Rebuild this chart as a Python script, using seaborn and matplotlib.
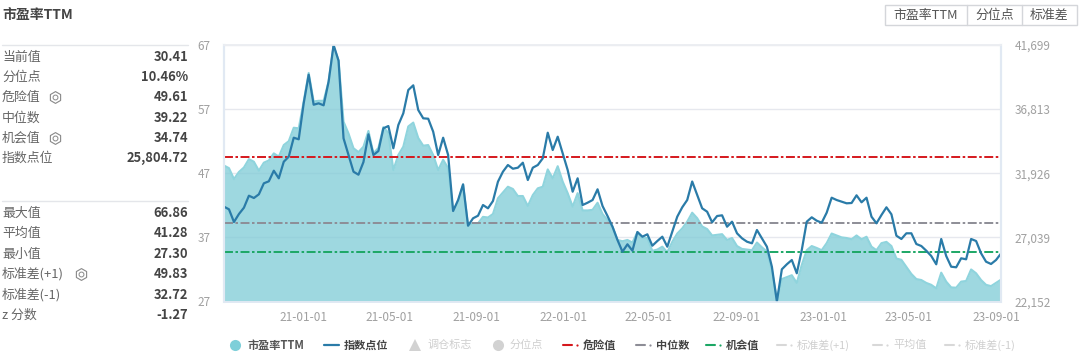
import matplotlib
matplotlib.use('Agg')
import matplotlib.pyplot as plt
import pandas as pd
import seaborn as sns

W, H = 1080, 361

pe_values = [
    48.2, 47.8, 46.1, 47.2, 47.9, 49.2, 48.8, 47.4, 48.65, 49.0, 50.1, 49.6, 51.4, 52.0, 54.1, 54.0,
    58.2, 62.65, 58.2, 58.3, 58.3, 61.3, 66.86, 64.6, 55.05, 53.2, 50.9, 50.3, 51.15, 53.6, 50.1, 50.95,
    54.2, 53.3, 47.5, 49.85, 51.15, 54.3, 54.9, 52.5, 51.3, 51.4, 49.85, 47.5, 49.1, 47.8, 41.1, 42.6,
    45.2, 38.8, 39.2, 39.2, 40.2, 40.1, 40.65, 43.1, 44.0, 44.9, 44.55, 43.45, 43.45, 41.9, 43.6, 44.65,
    44.9, 47.6, 46.2, 48.1, 45.7, 43.9, 41.8, 43.9, 41.2, 41.2, 41.3, 42.4, 40.65, 39.7, 38.7, 36.6,
    36.4, 36.6, 36.2, 37.8, 36.9, 36.9, 34.9, 35.1, 35.55, 34.7, 36.3, 37.6, 38.4, 39.45, 40.85, 40.0,
    38.7, 38.3, 37.3, 37.4, 37.5, 36.6, 36.9, 35.65, 35.2, 35.1, 35.0, 36.2, 35.45, 34.8, 31.9, 27.3,
    30.5, 30.8, 31.1, 29.9, 32.7, 35.0, 35.65, 35.35, 35.0, 36.1, 37.6, 37.3, 37.0, 36.9, 36.7, 37.3,
    36.7, 37.1, 35.55, 35.0, 36.1, 36.3, 35.65, 33.7, 33.5, 32.4, 31.3, 30.5, 30.35, 29.9, 29.6, 29.05,
    31.5, 30.1, 29.2, 29.15, 30.1, 30.2, 32.0, 31.4, 30.35, 29.6, 29.4, 29.9, 30.41,
]
index_values = [
    29376, 29178, 28210, 28820, 29300, 30214, 30039, 30321, 31159, 31311, 32119, 31540, 32805, 33186, 34634, 34512,
    37255, 39434, 37148, 37255, 37102, 38901, 41699, 40501, 34588, 33315, 32043, 31814, 32782, 34893, 33315, 33620,
    35350, 35525, 33826, 35601, 36493, 38268, 38626, 36744, 36112, 36081, 35091, 33315, 34634, 33315, 29048, 29886,
    31083, 27928, 28492, 28690, 29505, 29254, 29810, 31281, 32043, 32553, 32271, 32348, 32729, 31410, 32348, 32553,
    33064, 35015, 33696, 34710, 33445, 32172, 30519, 31540, 29505, 29681, 29886, 30702, 29429, 28667, 27852, 26838,
    25947, 26511, 26023, 27448, 27090, 27273, 26404, 26762, 27090, 26328, 27471, 28614, 29330, 29886, 31296, 30267,
    29254, 28995, 28187, 28667, 28720, 27852, 28233, 27349, 26968, 26709, 26587, 27600, 26968, 26328, 24804, 22152,
    24606, 24987, 25314, 24301, 26076, 28233, 28568, 28309, 28157, 28919, 30062, 29886, 29757, 29635, 29658, 30244,
    29711, 30062, 28614, 28111, 28743, 29330, 28797, 27166, 26915, 27349, 27349, 26534, 26381, 26023, 25619, 24987,
    26915, 25619, 24804, 24758, 25444, 25368, 26915, 26762, 25825, 25185, 25010, 25314, 25805,
]
dates = pd.date_range('2020-09-11', periods=len(pe_values), freq='7D')

tick_dates = ['2021-01-01', '2021-05-01', '2021-09-01', '2022-01-01', '2022-05-01',
              '2022-09-01', '2023-01-01', '2023-05-01', '2023-09-01']
pe_ticks = [27, 37, 47, 57, 67]
index_ticks = [22152, 27039, 31926, 36813, 41699]

danger = 49.61
median = 39.22
chance = 34.74

stats_top = [('当前值', '30.41'), ('分位点', '10.46%'), ('危险值', '49.61'),
             ('中位数', '39.22'), ('机会值', '34.74'), ('指数点位', '25,804.72')]
stats_bottom = [('最大值', '66.86'), ('平均值', '41.28'), ('最小值', '27.30'),
                ('标准差(+1)', '49.83'), ('标准差(-1)', '32.72'), ('z 分数', '-1.27')]
buttons = ['市盈率TTM', '分位点', '标准差']

df = pd.DataFrame({'date': dates, 'pe': pe_values, 'index': index_values})

sns.set_theme(style='white')
plt.rcParams['font.family'] = ['Noto Sans CJK SC', 'DejaVu Sans']

fig = plt.figure(figsize=(W / 100, H / 100), dpi=100)
ax = fig.add_axes([224 / W, 1 - 301.5 / H, 777 / W, 256.5 / H])

edge = '#e1e9f3'
ax.set_axisbelow(True)
ax.grid(axis='y', color='#e6e8ee', lw=1)
ax.fill_between(df['date'], df['pe'], 27, color='#7ecbd6', alpha=0.75, lw=0)
sns.lineplot(data=df, x='date', y='pe', ax=ax, color='#8fd4dd', lw=1.5, legend=False)
for val, col in [(danger, '#d5181d'), (median, '#8d8d96'), (chance, '#1ca765')]:
    ax.axhline(val, color=col, lw=1.4, ls=(0, (4.6, 1.3, 1.3, 1.3)), zorder=4)

ax.set_xlim(dates[0], dates[-1])
ax.set_ylim(27, 67)
ax.set_yticks(pe_ticks)
ax.set_xticks(pd.to_datetime(tick_dates))
ax.set_xticklabels([d[2:] for d in tick_dates])
ax.set_xlabel('')
ax.set_ylabel('')
ax.tick_params(axis='x', length=6, width=1, color=edge, labelsize=8.5, labelcolor='#a0a0a0', pad=0.5)
ax.tick_params(axis='y', length=0, labelsize=8.5, labelcolor='#a0a0a0', pad=9.5)

ax2 = ax.twinx()
sns.lineplot(data=df, x='date', y='index', ax=ax2, color='#2a7ba8', lw=1.6, legend=False)
ax2.set_ylim(index_ticks[0], index_ticks[-1])
ax2.set_yticks(index_ticks)
ax2.set_yticklabels(['{:,}'.format(t) for t in index_ticks])
ax2.set_ylabel('')
ax2.tick_params(axis='y', length=0, labelsize=8.5, labelcolor='#a0a0a0', pad=9.7)

for a in (ax, ax2):
    a.spines['top'].set_color('#eceef2')
    a.spines['left'].set_color(edge)
    a.spines['right'].set_color(edge)
    a.spines['bottom'].set_color(edge)
    a.spines['left'].set_linewidth(1.5)
    a.spines['right'].set_linewidth(1.5)
    a.spines['bottom'].set_linewidth(1.2)

# everything around the chart is placed in pixels on a full size overlay
ov = fig.add_axes([0, 0, 1, 1], facecolor='none')
ov.set_xlim(0, W)
ov.set_ylim(H, 0)
ov.axis('off')


def gear(x, y):
    ov.plot([x], [y], marker='h', ms=8.5, mfc='none', mec='#888888', mew=0.8)
    ov.plot([x], [y], marker='o', ms=3.5, mfc='none', mec='#888888', mew=0.7)


ov.text(2, 15, '市盈率TTM', fontsize=10, fontweight='bold', color='#444444', va='center')

for rows, ys, sep in [(stats_top, [57, 77, 97, 118, 138, 158], 45),
                      (stats_bottom, [213, 233, 254, 274, 295, 315], 201)]:
    ov.plot([2, 188], [sep, sep], color='#e4e6ea', lw=1)
    for (name, val), y in zip(rows, ys):
        ov.text(2, y, name, fontsize=9.3, color='#666666', va='center')
        ov.text(188, y, val, fontsize=9.3, fontweight='bold', color='#444444', va='center', ha='right')
gear(55, 97)
gear(55, 138)
gear(81, 274)

# buttons
ov.add_patch(plt.Rectangle((885, 5), 192, 20, fc='white', ec='#d4d6da', lw=1))
for x in [967, 1022]:
    ov.plot([x, x], [5, 25], color='#d4d6da', lw=1)
for label, x in zip(buttons, [926, 994.5, 1049.5]):
    ov.text(x, 15, label, fontsize=9.3, color='#555555', ha='center', va='center')

# legend
on = '#444444'
off = '#cfcfcf'
ov.plot([235], [345], marker='o', ms=8, color='#7ecfd9', mew=0)
ov.text(248, 345, '市盈率TTM', fontsize=8, fontweight='bold', color='#555555', va='center')
ov.plot([324, 339], [345, 345], color='#2a7ba8', lw=1.6)
ov.text(344, 345, '指数点位', fontsize=8, fontweight='bold', color=on, va='center')
ov.plot([415], [345], marker='^', ms=8, color='#d2d2d2', mew=0)
ov.text(427, 345, '调仓标志', fontsize=8, color=off, va='center')
ov.plot([498], [345], marker='o', ms=8, color='#d2d2d2', mew=0)
ov.text(510, 345, '分位点', fontsize=8, color=off, va='center')

dashed = [(563, '#d5181d', '危险值', on), (636, '#8d8d96', '中位数', on), (706, '#1ca765', '机会值', on),
          (777, '#d8d8d8', '标准差(+1)', off), (873, '#d8d8d8', '平均值', off), (945, '#d8d8d8', '标准差(-1)', off)]
for x, col, label, tcol in dashed:
    ov.plot([x, x + 9], [345, 345], color=col, lw=1.5)
    ov.plot([x + 14], [345], marker='o', ms=1.6, color=col, mew=0)
    ov.text(x + 20, 345, label, fontsize=8, fontweight='bold' if tcol == on else 'normal', color=tcol, va='center')

plt.savefig('out.png', dpi=100)
plt.clf()
